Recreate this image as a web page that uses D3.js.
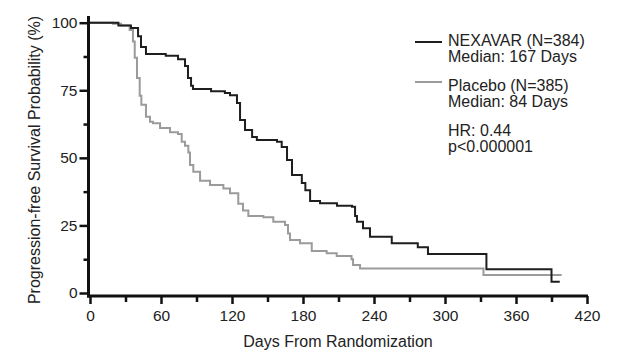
<!DOCTYPE html>
<html>
<head>
<meta charset="utf-8">
<script src="https://cdn.jsdelivr.net/npm/d3@7"></script>
<style>
body { margin: 0; background: #fff; }
svg { font-family: "Liberation Sans", Arial, Helvetica, sans-serif; }
</style>
</head>
<body>
<svg width="637" height="353"></svg>
<script>
// Kaplan-Meier steps: [day, survival %]
const nexavar = [[0,100],[24,99],[34.6,98],[40.6,95],[43.1,91],[47.3,88.4],[64,87.8],[74.4,86.5],
  [80.3,84],[82.8,79.5],[85.4,76.7],[87,75.5],[102.3,74.6],[114,74],[118.3,73.2],[124.2,70.3],
  [126.8,64],[131,60.3],[137,57.7],[141,56.6],[158,56],[162,54],[166.5,49.2],[170.7,43.7],
  [179,40.7],[182,38],[186,34],[194.4,33.2],[208.7,32.3],[221.4,31.9],[224,28.5],[225.6,26.4],
  [230.7,24],[236.6,20.8],[255,18.4],[277,16.9],[285.6,14.4],[335,8.8],[390,4.2],[397,4.2]];
const placebo = [[0,100],[19.4,99.6],[26.2,99],[33.5,97.3],[36.3,93],[37.8,87],[39.7,79.5],
  [42,73],[43.4,69.6],[47.3,65.2],[50.7,63.4],[53.2,62.8],[59.2,61],[67.6,59.5],[74.4,58.8],
  [77.5,56],[80.3,54.5],[83.1,52],[84.5,47.4],[87.3,44.9],[93,41.5],[101.4,40],[112.7,38.7],
  [118.3,36.9],[125.3,33],[129.3,30.5],[133.8,28.5],[146.5,28],[154.9,26.4],[164.8,25.2],
  [167.3,22],[169,19.6],[177.5,18.4],[187.4,15.5],[200,14.7],[208.5,13.7],[221,12.5],
  [222.3,10.4],[228.2,9.1],[332.5,6.7],[398.6,6.7]];

const xTicks = [0, 60, 120, 180, 240, 300, 360, 420];
const xMinor = [30, 90, 150, 210, 270, 330, 390];
const yTicks = [0, 25, 50, 75, 100];
const yMinor = [12.5, 37.5, 62.5, 87.5];

const seriesNames = ["NEXAVAR (N=384)", "Placebo (N=385)"];
const seriesMedians = ["Median: 167 Days", "Median: 84 Days"];
const statLines = ["HR: 0.44", "p<0.000001"];
const colors = ["#1e1e1e", "#9b9b9b"];

const svg = d3.select("svg");
const x = d3.scaleLinear().domain([0, 420]).range([90, 587]);
const y = d3.scaleLinear().domain([0, 100]).range([293, 22.7]);

// axes
const xg = svg.append("g").attr("transform", "translate(0,296)");
xg.call(d3.axisBottom(x).tickValues(xTicks).tickSize(8).tickPadding(6));
const xm = svg.append("g").attr("transform", "translate(0,296)");
xm.call(d3.axisBottom(x).tickValues(xMinor).tickSize(6).tickFormat(""));

const yg = svg.append("g").attr("transform", "translate(88.5,0)");
yg.call(d3.axisLeft(y).tickValues(yTicks).tickSize(9).tickPadding(2));
const ym = svg.append("g").attr("transform", "translate(88.5,0)");
ym.call(d3.axisLeft(y).tickValues(yMinor).tickSize(5).tickFormat(""));

svg.selectAll(".domain").remove();
svg.selectAll(".tick line").attr("stroke", "#111").attr("stroke-width", 2.5);
svg.selectAll(".tick text").attr("font-size", "15.5px").attr("fill", "#222")
  .attr("font-family", "Liberation Sans, Arial, sans-serif");

svg.append("line").attr("x1", 87).attr("x2", 588).attr("y1", 296).attr("y2", 296)
  .attr("stroke", "#111").attr("stroke-width", 3);
svg.append("line").attr("x1", 88.5).attr("x2", 88.5).attr("y1", 16).attr("y2", 297.5)
  .attr("stroke", "#111").attr("stroke-width", 3);

// curves
const line = d3.line().x(d => x(d[0])).y(d => y(d[1])).curve(d3.curveStepAfter);
[placebo, nexavar].forEach((s, i) => {
  svg.append("path").attr("d", line(s)).attr("fill", "none")
    .attr("stroke", colors[1 - i]).attr("stroke-width", 2);
});

// titles
svg.append("text").attr("x", 338).attr("y", 347).attr("text-anchor", "middle")
  .attr("font-size", "16px").attr("fill", "#222").text("Days From Randomization");
svg.append("text").attr("transform", "translate(40,160) rotate(-90)").attr("text-anchor", "middle")
  .attr("font-size", "16px").attr("fill", "#222").text("Progression-free Survival Probability (%)");

// legend
const leg = svg.append("g");
seriesNames.forEach((n, i) => {
  const top = i * 45;
  const ly = i ? 82 : 42;
  leg.append("line").attr("x1", 415).attr("x2", 442).attr("y1", ly).attr("y2", ly)
    .attr("stroke", colors[i]).attr("stroke-width", 2);
  leg.append("text").attr("x", 448).attr("y", 45.7 + top).attr("font-size", "16px").attr("fill", "#222").text(n);
  leg.append("text").attr("x", 448).attr("y", 61.7 + top).attr("font-size", "16px").attr("fill", "#222").text(seriesMedians[i]);
});
statLines.forEach((t, i) => {
  leg.append("text").attr("x", 448).attr("y", 136 + i * 16).attr("font-size", "16px").attr("fill", "#222").text(t);
});
</script>
</body>
</html>
